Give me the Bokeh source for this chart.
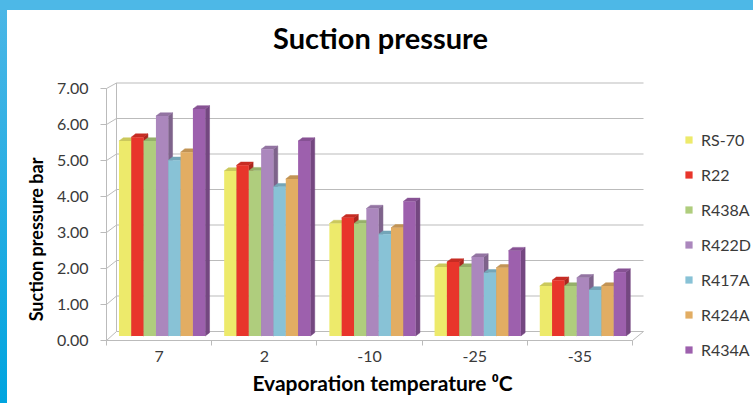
from bokeh.core.properties import value
from bokeh.embed import file_html
from bokeh.layouts import column, row
from bokeh.models import (FixedTicker, Legend, LegendItem, PrintfTickFormatter,
                          Range1d, Spacer)
from bokeh.plotting import figure
from bokeh.resources import INLINE

# ---- data -----------------------------------------------------------------
chart_title = "Suction pressure"
temperatures = ["7", "2", "-10", "-25", "-35"]
refrigerants = ["RS-70", "R22", "R438A", "R422D", "R417A", "R424A", "R434A"]

rs70 = [5.46, 4.62, 3.15, 1.93, 1.40]
r22 = [5.57, 4.78, 3.31, 2.07, 1.56]
r438a = [5.46, 4.63, 3.15, 1.93, 1.40]
r422d = [6.16, 5.23, 3.57, 2.21, 1.63]
r417a = [4.92, 4.18, 2.85, 1.77, 1.29]
r424a = [5.15, 4.40, 3.03, 1.91, 1.40]
r434a = [6.36, 5.46, 3.77, 2.39, 1.79]

pressure_ticks = [0, 1, 2, 3, 4, 5, 6, 7]

series = [rs70, r22, r438a, r422d, r417a, r424a, r434a]
face_colors = ["#EDEA6B", "#E8352B", "#AFCD7D", "#AB87BD",
               "#88C2D6", "#E2AD63", "#9D60AD"]

# ---- geometry of the pseudo-3D box (figure pixels) --------------------------
W, H = 746, 393
FL, FR, FT, FB = 0, 746, 0, 393   # the frame fills the whole figure

# each plane: (x of group 0, px per group, y of zero, px per bar unit)
FRONT = (99.0, 105.2, 330.0, 36.0)
BARS = (102.0, 105.2, 325.5, 35.7)
BACK = (109.0, 105.4, 321.0, 35.5)
BAR_DEPTH = (4.3, 3.3)                      # px right / px up


def plane_ranges(plane):
    x0, ppg, y0, ppu = plane
    return (Range1d((FL - x0) / ppg, (FR - x0) / ppg),
            Range1d((y0 - FB) / ppu, (y0 - FT) / ppu))


def px_to_front(px, py):
    fx0, fppg, fy0, fppu = FRONT
    return (px - fx0) / fppg, (fy0 - py) / fppu


def to_front(plane, X, Y):
    x0, ppg, y0, ppu = plane
    return px_to_front(x0 + X * ppg, y0 - Y * ppu)


def shade(hex_color, f):
    h = hex_color.lstrip("#")
    r, g, b = (int(h[i:i + 2], 16) for i in (0, 2, 4))
    return "#%02x%02x%02x" % (int(r * f), int(g * f), int(b * f))


fxr, fyr = plane_ranges(FRONT)
bxr, byr = plane_ranges(BARS)
wxr, wyr = plane_ranges(BACK)

p = figure(width=W, height=H, x_range=fxr, y_range=fyr,
           output_backend="svg", toolbar_location=None,
           min_border_left=FL, min_border_right=W - FR,
           min_border_top=FT, min_border_bottom=H - FB)
p.extra_x_ranges = {"bars": bxr, "back": wxr}
p.extra_y_ranges = {"bars": byr, "back": wyr}

p.outline_line_color = None
p.background_fill_color = "white"
p.border_fill_color = "white"
p.xgrid.visible = False
p.ygrid.visible = False

GRID = "#BBBBBB"
TEXT = "#3A3A3A"
FONT = "Lato"
n_groups = len(temperatures)

# title
tx, ty = px_to_front(373, 27)
p.text(x=[tx], y=[ty], text=[chart_title], text_align="center",
       text_baseline="middle", text_font=value(FONT),
       text_font_style="bold", text_font_size="29px", text_color="black")

# back wall gridlines
p.segment(x0=[0] * len(pressure_ticks), x1=[n_groups] * len(pressure_ticks),
          y0=pressure_ticks, y1=pressure_ticks,
          x_range_name="back", y_range_name="back",
          line_color=GRID, line_width=1)
# back wall left edge
p.segment(x0=[0], y0=[0], x1=[0], y1=[pressure_ticks[-1]],
          x_range_name="back", y_range_name="back",
          line_color=GRID, line_width=1)

# front axis line, floor edge and the depth connectors
p.segment(x0=[0], y0=[0], x1=[0], y1=[pressure_ticks[-1]],
          line_color=GRID, line_width=1)
p.segment(x0=[0], y0=[0], x1=[n_groups], y1=[0],
          line_color=GRID, line_width=1)
cx0, cy0, cx1, cy1 = [], [], [], []
for t in pressure_ticks:
    bx, by = to_front(BACK, 0, t)
    cx0.append(0); cy0.append(t); cx1.append(bx); cy1.append(by)
bx, by = to_front(BACK, n_groups, 0)
cx0.append(n_groups); cy0.append(0); cx1.append(bx); cy1.append(by)
p.segment(x0=cx0, y0=cy0, x1=cx1, y1=cy1, line_color=GRID, line_width=1)

# ---- bars ------------------------------------------------------------------
n_series = len(series)
span = 0.82
bw = span / n_series
ddx = BAR_DEPTH[0] / BARS[1]
ddy = BAR_DEPTH[1] / BARS[3]

legend_items = []
for j, (vals, col) in enumerate(zip(series, face_colors)):
    xs = [g + 0.5 - span / 2 + bw * (j + 0.5) for g in range(n_groups)]
    side_x, side_y, top_x, top_y = [], [], [], []
    for x, v in zip(xs, vals):
        xl, xr = x - bw / 2, x + bw / 2
        side_x.append([xr, xr + ddx, xr + ddx, xr])
        side_y.append([0, ddy, v + ddy, v])
        top_x.append([xl, xr, xr + ddx, xl + ddx])
        top_y.append([v, v, v + ddy, v + ddy])
    p.patches(xs=side_x, ys=side_y, fill_color=shade(col, 0.74),
              line_color=shade(col, 0.74), line_width=0.5,
              x_range_name="bars", y_range_name="bars")
    p.patches(xs=top_x, ys=top_y, fill_color=shade(col, 0.86),
              line_color=shade(col, 0.86), line_width=0.5,
              x_range_name="bars", y_range_name="bars")
    r = p.vbar(x=xs, width=bw, top=vals, bottom=0, fill_color=col,
               line_color=None, x_range_name="bars", y_range_name="bars")
    legend_items.append(LegendItem(label=refrigerants[j], renderers=[r]))

# ---- axes ------------------------------------------------------------------
# value axis runs up the front-left edge of the box
yax = p.yaxis[0]
yax.fixed_location = 0
yax.ticker = FixedTicker(ticks=pressure_ticks)
yax.formatter = PrintfTickFormatter(format="%.2f")
yax.bounds = (-1.4, pressure_ticks[-1])
yax.axis_line_color = None
yax.major_tick_in = 0
yax.major_tick_out = 6
yax.major_tick_line_color = GRID
yax.minor_tick_line_color = None
yax.major_label_standoff = 12
yax.major_label_text_font = FONT
yax.major_label_text_font_size = "16px"
yax.major_label_text_color = TEXT
yax.axis_label = "Suction pressure bar"
yax.axis_label_text_font = FONT
yax.axis_label_text_font_style = "bold"
yax.axis_label_text_font_size = "18px"
yax.axis_label_text_color = "black"
yax.axis_label_standoff = 7

# category axis runs along the front edge of the floor
centers = [g + 0.5 for g in range(n_groups)]
xax = p.xaxis[0]
xax.fixed_location = 0
xax.bounds = (0, n_groups + 0.25)
xax.ticker = FixedTicker(ticks=centers, minor_ticks=list(range(n_groups + 1)))
xax.major_label_overrides = {c: t for c, t in zip(centers, temperatures)}
xax.axis_line_color = None
xax.major_tick_line_color = None
xax.minor_tick_in = 0
xax.minor_tick_out = 5
xax.minor_tick_line_color = GRID
xax.major_label_standoff = 4
xax.major_label_text_font = FONT
xax.major_label_text_font_size = "16px"
xax.major_label_text_color = TEXT
xax.axis_label = "Evaporation temperature \u2070C"
xax.axis_label_text_font = FONT
xax.axis_label_text_font_style = "bold"
xax.axis_label_text_font_size = "21px"
xax.axis_label_text_color = "black"
xax.axis_label_standoff = 5

# ---- legend (right of the floor, placed from the frame's lower-left) --------
legend = Legend(items=legend_items, location=(677, 44.5),
                orientation="vertical",
                glyph_width=9, glyph_height=9,
                label_height=19, spacing=16, label_standoff=8,
                padding=0, margin=0,
                border_line_color=None, background_fill_alpha=0,
                label_text_font=FONT, label_text_font_size="16px",
                label_text_color=TEXT)
p.add_layout(legend, "center")

# ---- frame bands ------------------------------------------------------------
top_band = Spacer(width=753, height=10, styles={"background": "#4DB8E7"})
left_band = Spacer(width=7, height=H, styles={
    "background": "linear-gradient(to bottom, #4AB6E6, #00A4DF)"})

layout = column(top_band, row(left_band, p, spacing=0), spacing=0)

open("out.html", "w").write(file_html(layout, INLINE))
